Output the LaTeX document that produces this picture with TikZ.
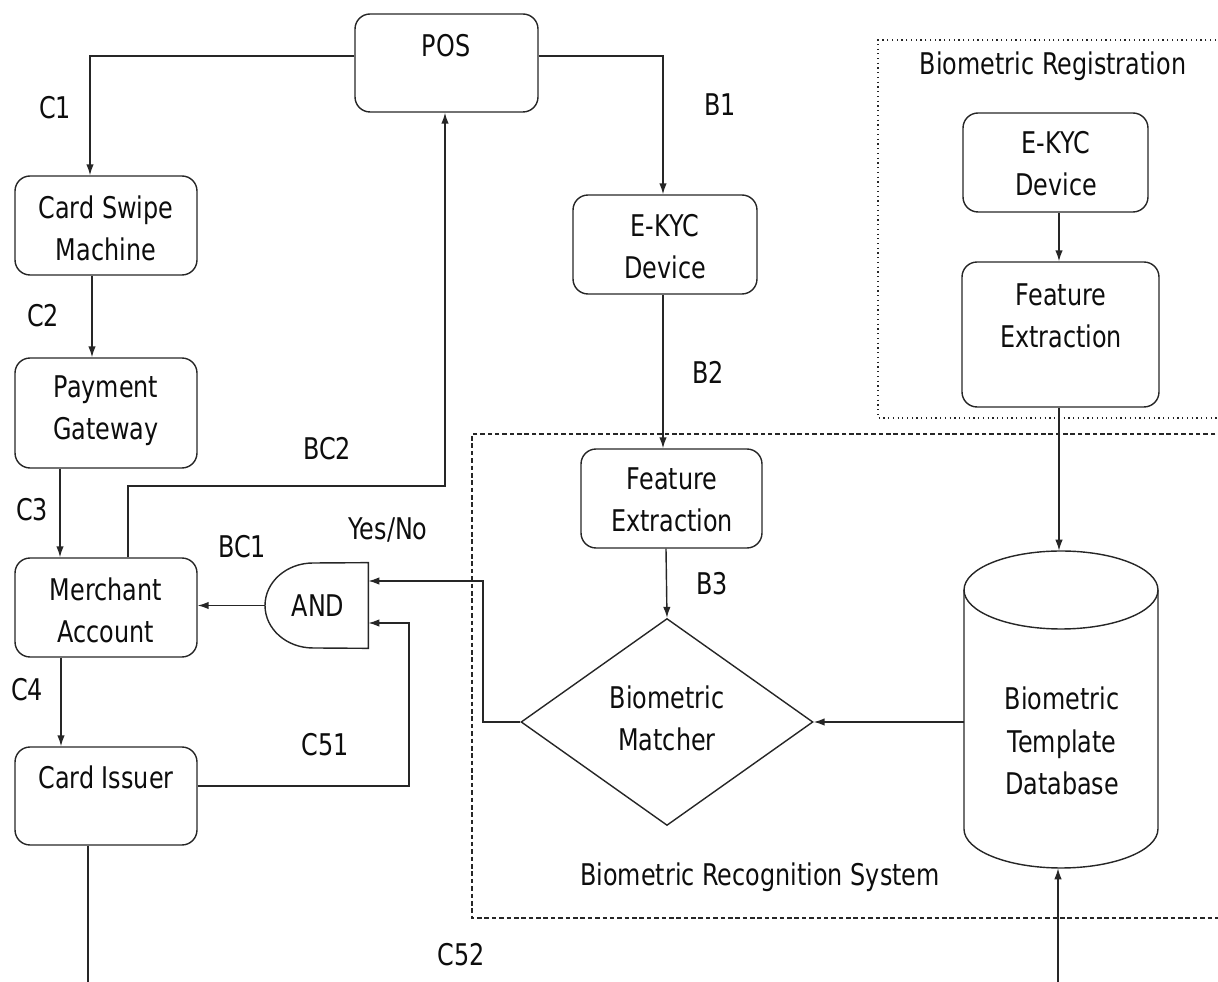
\documentclass[tikz,border=0pt]{standalone}
\usepackage{fontspec}
\setmainfont{DejaVu Sans}[FakeStretch=0.8]
\usetikzlibrary{arrows.meta,shapes.geometric}
\begin{document}
\begin{tikzpicture}[x=0.02cm,y=-0.02cm,
  ln/.style={draw=black!85,line width=0.8pt},
  arr/.style={ln,-{Latex[length=0.22cm,width=0.15cm]}},
  box/.style={ln,rounded corners=0.3cm,inner sep=0pt},
  txt/.style={font=\fontsize{17}{24}\selectfont,align=center,inner sep=0pt,text=black!95}]
\useasboundingbox (0,0) rectangle (1218,982);
% boxes
\node[box,minimum width=3.66cm,minimum height=1.96cm] (pos) at (446.5,63) {};
\node[box,minimum width=3.64cm,minimum height=1.98cm] (csm) at (106,225.5) {};
\node[box,minimum width=3.64cm,minimum height=2.2cm] (pg) at (106,413) {};
\node[box,minimum width=3.64cm,minimum height=1.98cm] (ma) at (106,607.5) {};
\node[box,minimum width=3.64cm,minimum height=1.96cm] (ci) at (106,796) {};
\node[box,minimum width=3.68cm,minimum height=1.98cm] (ekyc1) at (665,244.5) {};
\node[box,minimum width=3.62cm,minimum height=1.98cm] (fe1) at (671.5,498.5) {};
\node[box,minimum width=3.7cm,minimum height=1.98cm] (ekyc2) at (1055.5,162.5) {};
\node[box,minimum width=3.94cm,minimum height=2.9cm] (fe2) at (1060.5,334.5) {};
\node[ln,diamond,inner sep=0pt,minimum width=5.84cm,minimum height=4.14cm] (dm) at (667,722) {};
% database cylinder
\node[inner sep=0pt,minimum width=3.88cm,minimum height=6.34cm] (db) at (1061,709.5) {};
\draw[ln] (1061,590) ellipse [x radius=1.94cm, y radius=0.78cm];
\draw[ln] (964,590) -- (964,829) arc[start angle=180,end angle=360,x radius=1.94cm,y radius=0.78cm] -- (1158,590);
% AND gate
\node[inner sep=0pt,minimum width=2.06cm,minimum height=1.7cm] (and) at (316.5,605.5) {};
\draw[ln] (and.north east) -- (313,563) arc[start angle=90,end angle=270,x radius=0.96cm,y radius=0.85cm] -- (and.south east) -- cycle;
% group frames
\draw[ln,line width=0.7pt,dotted] (1230,40) -- (878,40) -- (878,418) -- (1230,418);
\draw[ln,line width=0.7pt,dash pattern=on 2.6pt off 1.6pt] (1230,434) -- (472,434) -- (472,918) -- (1230,918);
% texts in boxes
\node[txt] (tpos) at (446,46) {POS};
\node[txt] (tcsm) at (106,228) {Card Swipe\\Machine};
\node[txt] (tpg) at (106,411) {Payment\\Gateway};
\node[txt] (tma) at (106,610) {Merchant\\Account};
\node[txt] (tci) at (106,777) {Card Issuer};
\node[txt] (tekyc1) at (665,247) {E-KYC\\Device};
\node[txt] (tfe1) at (672,500) {Feature\\Extraction};
\node[txt] (tekyc2) at (1056,164) {E-KYC\\Device};
\node[txt] (tfe2) at (1061,316) {Feature\\Extraction};
\node[txt] (tdm) at (667,718) {Biometric\\Matcher};
\node[txt] (tdb) at (1062,741) {Biometric\\Template\\Database};
\node[txt] (tand) at (318,606) {AND};
% labels
\node[txt] (lc1) at (55,108) {C1};
\node[txt] (lb1) at (720,105) {B1};
\node[txt] (lc2) at (43,316) {C2};
\node[txt] (lc3) at (32,510) {C3};
\node[txt] (lc4) at (27,690) {C4};
\node[txt] (lbc2) at (327,449) {BC2};
\node[txt] (lbc1) at (242,547) {BC1};
\node[txt] (lyn) at (388,530) {Yes/No};
\node[txt] (lc51) at (325,745) {C51};
\node[txt] (lc52) at (461,955) {C52};
\node[txt] (lb2) at (708,372) {B2};
\node[txt] (lb3) at (712,584) {B3};
\node[txt] (lreg) at (1053,66) {Biometric Registration};
\node[txt] (lrec) at (760,877) {Biometric Recognition System};
% connectors
\coordinate (bc2) at (445,486);
\coordinate (c51) at (409,623);
\coordinate (yn) at (483,581);
\coordinate (cibot) at (88,990);
\coordinate (dbbot) at (1058,990);
\draw[arr] (pos.west |- 0,56) -| (csm.north -| 90,0);
\draw[arr] (pos.east |- 0,56) -| (ekyc1.north -| 663,0);
\draw[arr] (csm.south -| 92,0) -- (pg.north -| 92,0);
\draw[arr] (pg.south -| 60,0) -- (ma.north -| 60,0);
\draw[arr] (ma.south -| 61,0) -- (ci.north -| 61,0);
\draw[arr] (ma.north -| 128,0) |- (bc2) -- (pos.south -| bc2);
\draw[arr] (and.west) -- (ma.east |- and.west);
\draw[arr] (ci.east |- 0,786) -| (c51) -- (and.east |- c51);
\draw[arr] (dm.west) -| (yn) -- (and.east |- yn);
\draw[ln] (ci.south -| cibot) -- (cibot);
\draw[arr] (ekyc1.south -| 663,0) -- (fe1.north -| 663,0);
\draw[arr] (fe1.south -| 666,0) -- (dm.north);
\draw[arr] (ekyc2.south -| 1059,0) -- (fe2.north -| 1059,0);
\draw[arr] (fe2.south -| 1059,0) -- (db.north -| 1059,0);
\draw[arr] (db.west |- dm.east) -- (dm.east);
\draw[arr] (dbbot) -- (db.south -| dbbot);
\end{tikzpicture}
\end{document}
